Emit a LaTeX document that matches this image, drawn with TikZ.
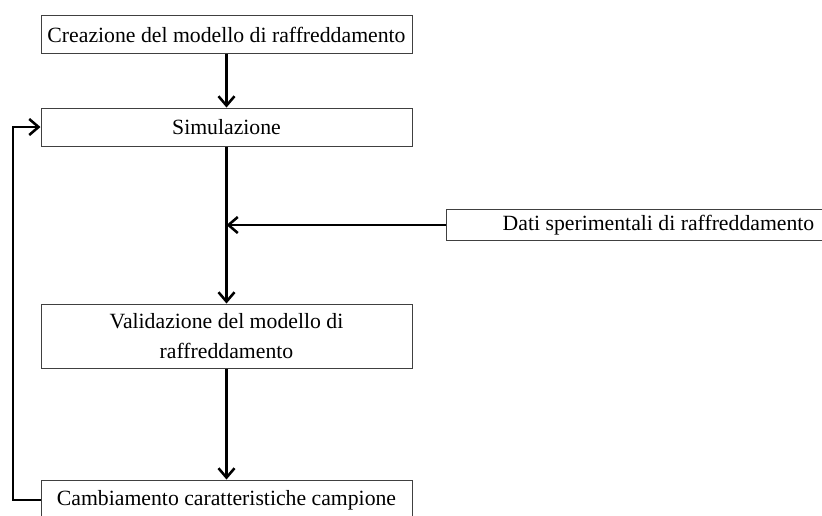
\documentclass[tikz,border=0pt]{standalone}
\usepackage{fontspec}
\setmainfont{Liberation Serif}
\usepackage{tikz}
\usetikzlibrary{calc,arrows.meta,positioning}
\tikzset{
  box/.style={draw=black!75, line width=0.75pt, fill=white, minimum width=278.25pt, minimum height=28.5pt, text centered, inner sep=2pt, font=\fontsize{16.3}{22}\selectfont},
  flow/.style={line width=1.9pt, -{Straight Barb[length=7pt,width=12pt,line width=1.9pt]}},
  link/.style={line width=1.9pt}
}
\begin{document}
\begin{tikzpicture}[x=0.75pt, y=-0.75pt]
  \useasboundingbox (0,0) rectangle (822,515);
  \node[box] (crea) at (226.5,34.5) {Creazione del modello di raffreddamento};
  \node[box] (sim) at (226.5,127) {Simulazione};
  \node[box, minimum width=318pt, minimum height=23.25pt] (dati) at (658.5,225) {Dati sperimentali di raffreddamento};
  \node[box, minimum height=48pt, align=center] (valid) at (226.5,336) {Validazione del modello di\\raffreddamento};
  \node[box, minimum height=30pt] (camb) at (226.5,500) {Cambiamento caratteristiche campione};
  \coordinate (merge) at (sim.south |- dati.west);
  \coordinate (back) at (13,0);
  \draw[flow] (crea) -- (sim);
  \draw[flow] (sim) -- (valid);
  \draw[flow] (dati) -- (merge);
  \draw[flow] (valid) -- (camb);
  \draw[flow] (camb.west) -| (back |- sim.west) -- (sim.west);
\end{tikzpicture}
\end{document}
